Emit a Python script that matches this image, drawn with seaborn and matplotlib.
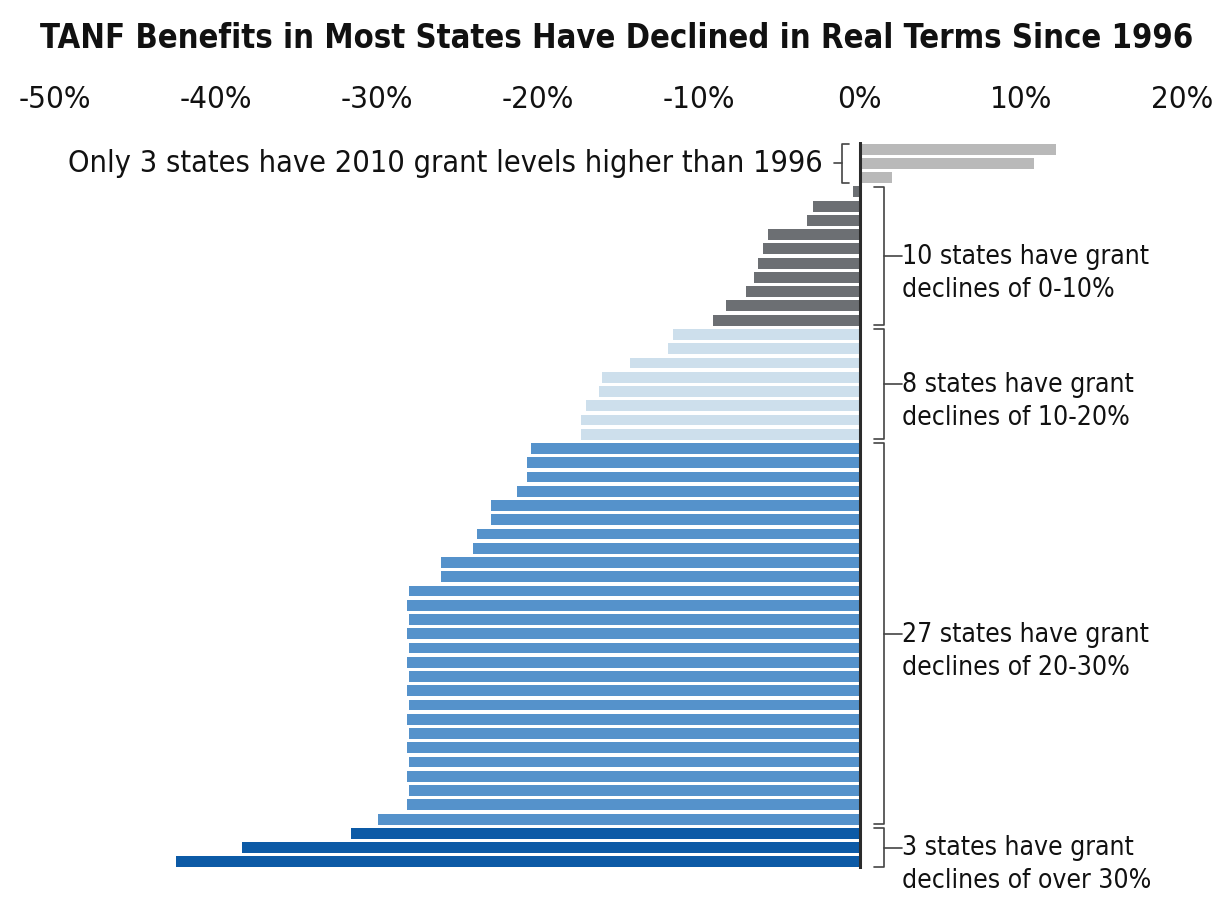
import numpy as np
import pandas as pd
import matplotlib
matplotlib.use('Agg')
import matplotlib.pyplot as plt
import seaborn as sns

# percent change in real TANF benefit, 1996-2010, one bar per state (sorted)
change_higher = [12.2, 10.8, 2.0]
change_0_10 = [-0.4, -2.9, -3.3, -5.7, -6.0, -6.3, -6.6, -7.1, -8.3, -9.1]
change_10_20 = [-11.6, -11.9, -14.3, -16.0, -16.2, -17.0, -17.3, -17.3]
change_20_30 = [-20.4, -20.7, -20.7, -21.3, -22.9, -22.9, -23.8, -24.0, -26.0, -26.0,
                -28.0, -28.1, -28.0, -28.1, -28.0, -28.1, -28.0, -28.1, -28.0, -28.1,
                -28.0, -28.1, -28.0, -28.1, -28.0, -28.1, -29.9]
change_30_plus = [-31.6, -38.4, -42.5]

group_names = ['higher', '0-10', '10-20', '20-30', '30+']
group_colors = {'higher': '#b9b9b9', '0-10': '#6c6f73', '10-20': '#cddfec',
                '20-30': '#5592cb', '30+': '#0c5aa6'}
group_text = {
    '0-10': '10 states have grant\ndeclines of 0-10%',
    '10-20': '8 states have grant\ndeclines of 10-20%',
    '20-30': '27 states have grant\ndeclines of 20-30%',
    '30+': '3 states have grant\ndeclines of over 30%',
}
title = 'TANF Benefits in Most States Have Declined in Real Terms Since 1996'
higher_text = 'Only 3 states have 2010 grant levels higher than 1996'
xticks = [-50, -40, -30, -20, -10, 0, 10, 20]

all_groups = [change_higher, change_0_10, change_10_20, change_20_30, change_30_plus]
df = pd.DataFrame({
    'change': np.concatenate(all_groups),
    'group': np.repeat(group_names, [len(g) for g in all_groups]),
})
df['rank'] = [str(i) for i in range(len(df))]

sns.set_style('white')
plt.rcParams['font.family'] = ['DejaVu Sans']
plt.rcParams['font.stretch'] = 'condensed'
plt.rcParams['text.color'] = '#111111'
plt.rcParams['xtick.color'] = '#111111'

fig = plt.figure(figsize=(12.19, 9.02), dpi=100)
ax = fig.add_axes([0.045, 0.0366, 0.9245, 0.806])

sns.barplot(data=df, x='change', y='rank', hue='group', palette=group_colors,
            dodge=False, legend=False, width=0.76, orient='h', ax=ax,
            edgecolor='none', saturation=1)

ax.set_xlim(-50, 20)
ax.set_ylim(len(df) - 0.5, -0.5)
ax.axvline(0, color='#2b2b2b', lw=2.2)

ax.xaxis.tick_top()
ax.set_xticks(xticks)
ax.set_xticklabels([f'{t}%' for t in xticks], fontsize=22.5, fontstretch='condensed')
ax.tick_params(axis='x', length=0, pad=20)
ax.set_yticks([])
ax.set_xlabel('')
ax.set_ylabel('')
for s in ax.spines.values():
    s.set_visible(False)

# brackets for each group
bk = dict(color='#444444', lw=1.2, clip_on=False)
start = 0
for name, vals in zip(group_names, all_groups):
    top, bot = start - 0.35, start + len(vals) - 0.65
    mid = (top + bot) / 2
    start += len(vals)
    if name == 'higher':
        ax.plot([-0.7, -1.1, -1.1, -0.7], [top, top, bot, bot], **bk)
        ax.plot([-1.1, -1.6], [mid, mid], **bk)
        ax.text(-2.3, mid, higher_text, ha='right', va='center', fontsize=22,
                fontstretch='condensed')
        continue
    ax.plot([0.9, 1.5, 1.5, 0.9], [top, top, bot, bot], **bk)
    ax.plot([1.5, 2.6], [mid, mid], **bk)
    ax.text(2.6, mid - 0.85, group_text[name], ha='left', va='top', fontsize=19,
            linespacing=1.35, fontstretch='condensed')

fig.text(0.506, 0.957, title, ha='center', va='center', fontsize=23.5, fontweight='bold',
         fontstretch='condensed')

fig.savefig('out.png', dpi=100)
